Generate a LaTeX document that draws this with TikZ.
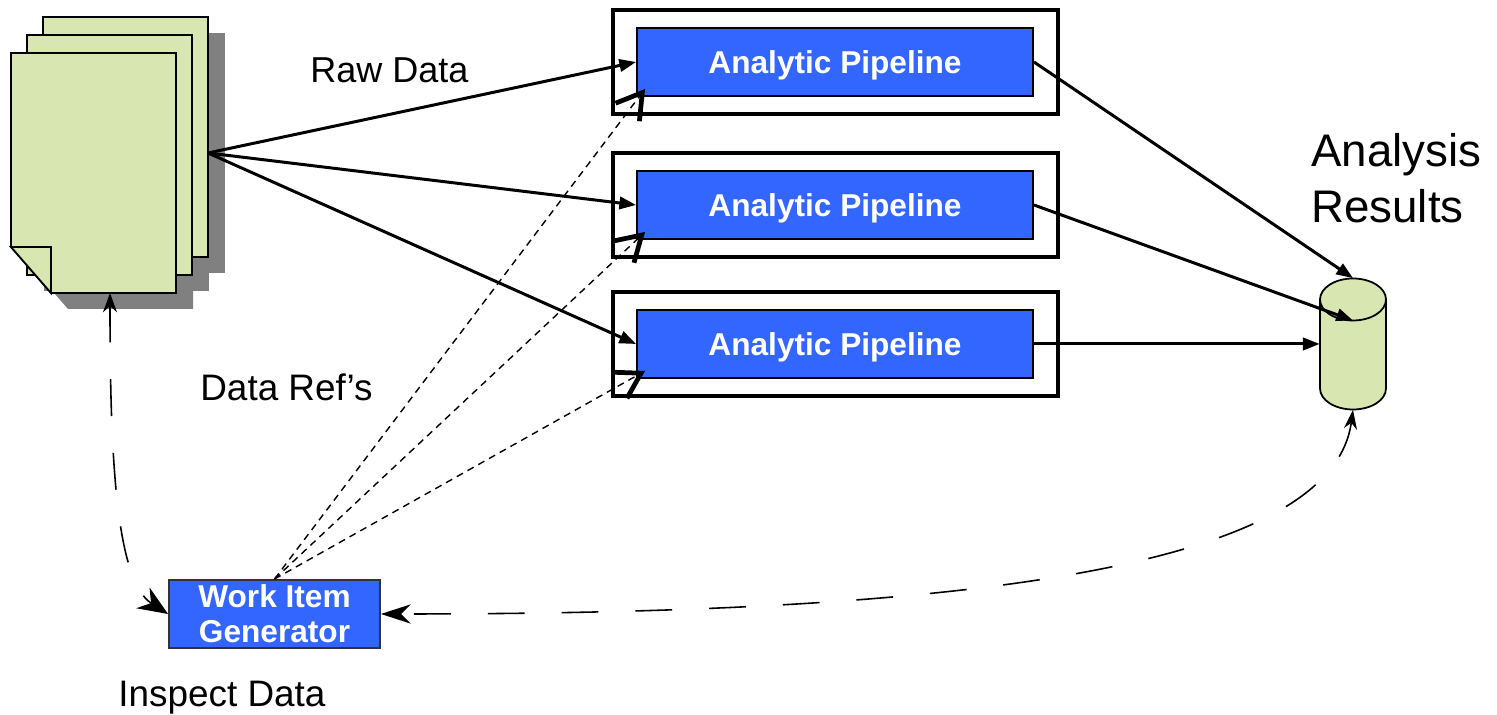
\documentclass[tikz,border=0pt]{standalone}
\usepackage{fontspec}
\setmainfont{Liberation Sans}
\usetikzlibrary{arrows.meta}
\definecolor{docgreen}{RGB}{216,231,178}
\definecolor{docshade}{RGB}{128,128,128}
\definecolor{pipeblue}{RGB}{51,102,255}
\tikzset{
  page/.style={draw=black, line width=1pt, fill=docgreen},
  shade/.style={draw=none, fill=docshade},
  frame/.style={draw=black, line width=1.9pt, minimum width=8.9cm, minimum height=2.08cm, inner sep=0pt},
  pipe/.style={draw=black, line width=1.1pt, fill=pipeblue, text=white, font=\bfseries\fontsize{18}{20}\selectfont, text depth=0pt, minimum width=7.92cm, minimum height=1.36cm, inner sep=0pt},
  wig/.style={draw=black!80, line width=1.1pt, fill=pipeblue, text=white, font=\bfseries\fontsize{18}{19.8}\selectfont, align=center, minimum width=4.22cm, minimum height=1.36cm, inner sep=0pt},
  dbbox/.style={minimum width=1.32cm, minimum height=2.62cm, inner sep=0pt},
  flow/.style={line width=1.7pt, -{Triangle[length=9.5pt,width=7pt]}},
  ref/.style={dash pattern=on 4pt off 3pt, line width=0.8pt, -{Straight Barb[length=14pt,width=17pt,line width=2.7pt]}},
  loop/.style={dash pattern=on 21pt off 21pt, line width=0.9pt},
  lbl/.style={anchor=base west, inner sep=0pt}
}
\newcommand{\pipebox}[2]{\node[frame] (f#1) at (835.5,#2) {}; \node[pipe] (p#1) at (835,#2) {Analytic Pipeline};}

\begin{document}
\begin{tikzpicture}[x=0.02cm,y=0.02cm]
        \useasboundingbox (0,0) rectangle (1497,715);
        %documents
        \fill[shade,shift={(17,-16)}] (43,458) rectangle (208,698);
        \fill[shade,shift={(17,-16)}] (27,440) rectangle (192,680);
        \fill[shade,shift={(17,-16)}] (51,422) -- (176,422) -- (176,662) -- (11,662) -- (11,468) -- cycle;
        \draw[page] (43,458) rectangle (208,698);
        \draw[page] (27,440) rectangle (192,680);
        \draw[page] (51,422) -- (176,422) -- (176,662) -- (11,662) -- (11,468) -- cycle;
        \draw[page] (11,468) -- (51,468) -- (51,422) -- cycle;
        \coordinate (docs) at (208,562);
        \coordinate (docsb) at (110,422);
        %pipelines
        \pipebox{1}{653}
        \pipebox{2}{510}
        \pipebox{3}{371}
        %results store
        \node[dbbox] (db) at (1353,371) {};
        \draw[page] (1320,415.5) -- (1320,326.5) arc[start angle=180, end angle=360, x radius=0.66cm, y radius=0.42cm]
              -- (1386,415.5) arc[start angle=0, end angle=180, x radius=0.66cm, y radius=0.42cm] -- cycle;
        \draw[page, fill=none] (1320,415.5) arc[start angle=180, end angle=360, x radius=0.66cm, y radius=0.42cm];
        \coordinate (dbtop) at (1353,394.5);
        %work items
        \node[wig] (wig) at (274.5,101) {Work Item\\Generator};
        %labels
        \node[lbl, font=\fontsize{20.5}{24}\selectfont] (raw) at (310,632) {Raw Data};
        \node[lbl, font=\fontsize{21}{25}\selectfont] (refs) at (200,314) {Data Ref’s};
        \node[lbl, font=\fontsize{21}{25}\selectfont] (insp) at (118,8) {Inspect Data};
        \node[lbl, align=left, font=\fontsize{26}{32.3}\selectfont] (res) at (1311,492) {Analysis\\Results};
        %edges
        \draw[flow] (docs) -- (p1.west);
        \draw[flow] (docs) -- (p2.west);
        \draw[flow] (docs) -- (p3.west);
        \draw[flow] (p1.east) -- (db.north);
        \draw[flow] (p2.east) -- (dbtop);
        \draw[flow] (p3.east) -- (db.west);
        \draw[ref] (wig.north) -- ([shift={(9,8)}]p1.south west);
        \draw[ref] (wig.north) -- ([shift={(9,8)}]p2.south west);
        \draw[ref] (wig.north) -- ([shift={(9,8)}]p3.south west);
        \draw[loop, {Stealth[length=11pt,width=8pt]}-{Stealth[length=17pt,width=14pt]}] (docsb) .. controls (110,265) and (115,135) .. (wig.west);
        \draw[loop, {Stealth[length=11pt,width=7.5pt]}-{Stealth[length=17pt,width=11pt]}] (db.south) .. controls (1330,135) and (900,101) .. (wig.east);
\end{tikzpicture}
\end{document}
